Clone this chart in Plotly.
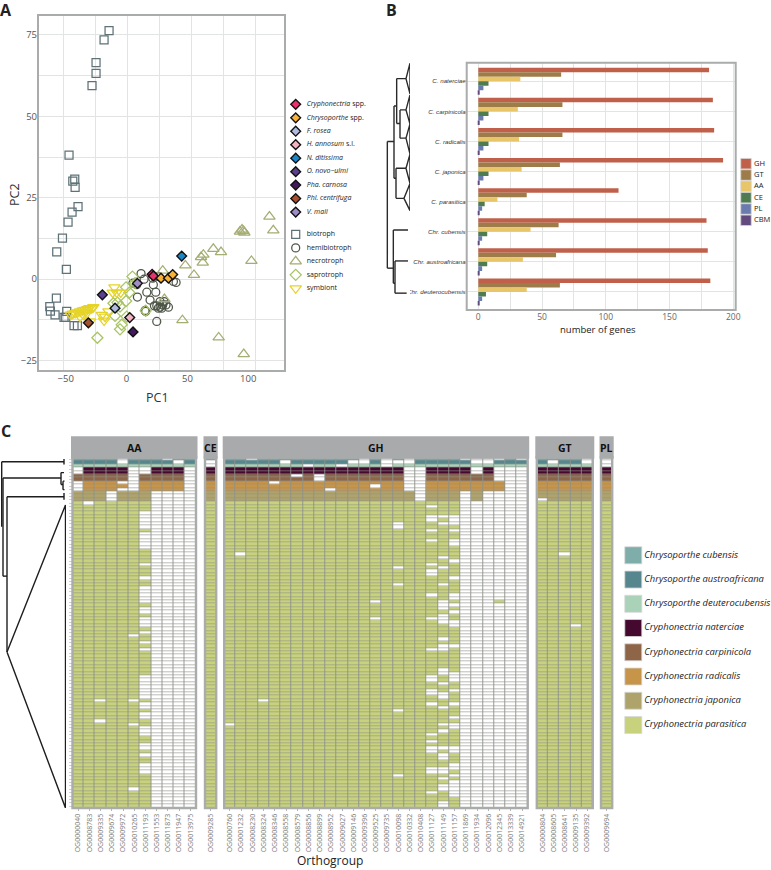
import plotly.graph_objects as go

W, H = 771, 870

# panel A: PCA scores per lifestyle
biotroph_x = [-14.4, -18.5, -25.1, -25.1, -28.4, -47.3, -42.6, -44.2, -42.3, -39.9, -44.8, -48.1, -52.7, -57.4, -49.5, -57.7, -63.1, -62.6, -58.8, -51.4, -49.2, -50.0, -43.2, -40.4]
biotroph_y = [76.3, 73.5, 66.5, 63.2, 59.4, 38.1, 30.7, 30.1, 28.2, 22.3, 20.6, 17.5, 12.6, 8.4, 3.0, -5.8, -8.4, -9.8, -11.0, -11.7, -9.9, -11.7, -14.3, -14.3]
hemi_x = [11.9, 14.4, 5.3, 8.9, 16.6, 19.3, 24.0, 22.0, 21.5, 27.5, 30.8, 24.8, 27.5, 34.4, 32.4, 22.9, 29.7, 26.1, 28.9, 40.7, 15.7, 24.8, 8.3, 26.1, 38.5, 15.2]
hemi_y = [1.7, 0.0, -1.2, -5.5, -4.0, -6.4, -4.0, -1.7, 0.3, -6.9, -6.9, -8.2, -8.6, -8.6, -7.9, -8.2, -7.9, -8.9, -8.9, -1.0, -9.9, -13.0, -1.7, 0.8, -0.7, -9.6]
necro_x = [117.4, 120.6, 93.2, 96.0, 96.8, 94.9, 71.3, 77.6, 63.1, 61.2, 62.6, 102.6, 48.3, 55.4, 29.7, 31.1, 45.9, 75.7, 96.3]
necro_y = [19.2, 15.0, 14.6, 14.8, 14.3, 15.2, 9.3, 8.3, 7.5, 6.8, 5.1, 5.6, 4.2, 1.3, 2.6, -6.1, -12.6, -17.9, -23.0]
sapro_x = [4.8, -0.4, 2.3, -0.4, -7.5, -10.8, -5.4, -9.5, 0.1, -4.0, -5.4, -24.0, 15.7, 7.0]
sapro_y = [0.8, -2.5, -4.1, -6.7, -7.2, -7.4, -8.4, -11.3, -11.5, -14.0, -15.4, -18.0, -9.7, -1.2]
symb_x = [-28.6, -30.6, -32.2, -34.1, -36.0, -38.2, -40.4, -42.3, -44.2, -45.9, -35.5, -32.7, -38.2, -30.0, -27.3, -20.4, -17.7, -18.5, -14.9, -10.0, -11.4, -8.1, -4.8]
symb_y = [-8.9, -8.9, -9.2, -9.4, -9.6, -9.9, -10.2, -10.4, -10.6, -10.9, -10.9, -10.4, -11.5, -13.0, -8.6, -11.0, -11.5, -12.7, -9.9, -2.5, -4.1, -4.1, -4.1]

# highlighted species in panel A
species_names = ["<i>Cryphonectria</i> spp.", "<i>Chrysoporthe</i> spp.", "<i>F. rosea</i>", "<i>H. annosum</i> s.l.", "<i>N. ditissima</i>",
                 "<i>O. novo\u2212ulmi</i>", "<i>Pha. carnosa</i>", "<i>Phl. centrifuga</i>", "<i>V. mali</i>"]
species_colors = ["#E8336D", "#F9B233", "#AEBCE0", "#F4B3C0", "#1C85C6", "#5B3F90", "#431A5B", "#A5512F", "#A08CC6"]
species_x = [[21.0, 22.0], [28.3, 34.4, 37.9], [-9.5], [2.6], [45.3], [-19.9], [5.3], [-31.4], [8.9]]
species_y = [[1.5, 1.0], [0.3, 0.3, 1.4], [-8.9], [-11.8], [7.1], [-4.8], [-16.2], [-13.4], [-1.3]]
habit_names = ["biotroph", "hemibiotroph", "necrotroph", "saprotroph", "symbiont"]
habit_colors = ["#5F7278", "#4E5648", "#A5AD73", "#A8C464", "#E5D327"]
habit_symbols = ["square-open", "circle-open", "triangle-up-open", "diamond-open", "triangle-down-open"]
habit_sizes = [8, 8, 10, 8.5, 10]

# panel B: gene counts
genomes = ["C. naterciae", "C. carpinicola", "C. radicalis", "C. japonica", "C. parasitica", "Chr. cubensis", "Chr. austroafricana", "Chr. deuterocubensis"]
cazy_names = ["GH", "GT", "AA", "CE", "PL", "CBM"]
cazy_colors = ["#C0604B", "#9E7C4A", "#E7C568", "#4E7B50", "#6A7BAE", "#634A7E"]
gh = [181, 184, 185, 192, 110, 179, 180, 182]
gt = [65, 66, 66, 64, 38, 63, 61, 64]
aa = [33, 31, 32, 34, 15, 41, 35, 38]
ce = [8, 8, 8, 8, 5, 7, 7, 6]
pl = [4, 4, 4, 4, 3, 3, 3, 3]
cbm = [1, 1, 1, 1, 1, 1, 1, 1]
cazy_counts = [gh, gt, aa, ce, pl, cbm]

# tree in panel B, y is the genome rank
tree_b_x = [22, 22, None, 22, 42, None, 22, 40, None, 42, 42, None, 42, 50, None, 50, 50, None, 50, 78, None, 50, 60, None, 60, 60, None, 60, 78, None, 60, 78, None,
            42, 48, None, 48, 48, None, 48, 78, None, 48, 72, None, 40, 40, None, 40, 84, None, 40, 45, None, 45, 45, None, 45, 84, None, 45, 80, None,
            78, 90, 90, 78, None, 78, 90, 90, 78, None, 78, 90, 90, 78, None, 78, 90, 90, 78, None, 72, 90, 90, 72]
tree_b_y = [2.0, 6.21, None, 2.0, 2.0, None, 6.21, 6.21, None, 0.82, 3.22, None, 0.82, 0.82, None, -0.09, 1.4, None, -0.09, -0.09, None, 1.4, 1.4, None, 0.95, 1.89, None, 0.95, 0.95, None, 1.89, 1.89, None,
            3.22, 3.22, None, 2.89, 3.89, None, 2.89, 2.89, None, 3.89, 3.89, None, 4.94, 6.71, None, 4.94, 4.94, None, 6.71, 6.71, None, 5.97, 7.04, None, 5.97, 5.97, None, 7.04, 7.04, None,
            -0.09, -0.6, 0.42, -0.09, None, 0.95, 0.45, 1.42, 0.95, None, 1.89, 1.42, 2.42, 1.89, None, 2.89, 2.42, 3.4, 2.89, None, 3.89, 3.4, 4.3, 3.89]

# panel C: absent rows per orthogroup, everything else is present
group_names = ["AA", "CE", "GH", "GT", "PL"]
aa_groups = ["OG0000040", "OG0008783", "OG0009335", "OG0009674", "OG0009972", "OG0010265", "OG0011193", "OG0011553", "OG0011873", "OG0011947", "OG0013975"]
ce_groups = ["OG0009285"]
gh_groups = ["OG0000760", "OG0001232", "OG0008230", "OG0008324", "OG0008346", "OG0008558", "OG0008579", "OG0008856", "OG0008899", "OG0008952", "OG0009027",
             "OG0009146", "OG0009396", "OG0009525", "OG0009735", "OG0010098", "OG0010332", "OG0010408", "OG0011127", "OG0011149", "OG0011157", "OG0011869",
             "OG0011934", "OG0012096", "OG0012345", "OG0013339", "OG0014921"]
gt_groups = ["OG0000804", "OG0008605", "OG0008641", "OG0009135", "OG0009392"]
pl_groups = ["OG0009694"]

aa_absent = [
    [3, 4, 7, 8, 9], [13], [71, 77], [10, 11, 12], [0, 1, 7, 9],
    [*range(3, 10), 52, 71, 78, 97],
    [3, 4, *range(16, 21), *range(22, 27), 31, 35, *range(38, 43), 44, 45, 47, 48, 49, 51, 54, 56, *range(64, 71), 72, 73, 75, 76, 79, 80, 81, 84, 85, 87, 90, 91, 92],
    [*range(10, 103)], [0, *range(10, 103)], [1, *range(10, 103)], [*range(3, 103)],
]
ce_absent = [[1, 2]]
gh_absent = [
    [78], [28], [0], [71], [7], [1], [5], [2], [5, 6], [9], [2], [1], [0, 1], [8, 42, 47], [0, 1, 2],
    [1, 19, 20, 32, 37, 74, 93],
    [0, 1, *range(3, 10)],
    [*range(3, 13)],
    [14, 17, 18, 21, 24, 31, 33, 34, 40, 47, 56, 64, 65, 68, 69, 72, 81, 83, 85, 86, 91, 92, 98],
    [17, 19, 29, 32, 37, 42, 43, 44, 46, 47, 48, 53, 55, 56, 62, 63, 66, 69, 70, 73, 78, 80, 85, 87, 88, 91, 92, 94, 96, 97, 101, 102],
    [17, 18, 19, 21, 24, 25, 30, 35, 40, 41, 43, 45, 48, 49, 55, 63, 64, 65, 68, 72, 76, 78, 79, 85, 86, 90, 91, 93, 95, 96, 97, 98, 99],
    [0, *range(10, 103)],
    [0, 1, 3, 4, *range(13, 103)],
    [0, 1, *range(10, 103)],
    [0, *range(3, 7), *range(10, 42), *range(43, 103)],
    [*range(3, 103)],
    [0, *range(3, 103)],
]
gt_absent = [[12], [1], [28], [49], [0, 1]]
pl_absent = [[0, 1, 2]]
group_labels = [aa_groups, ce_groups, gh_groups, gt_groups, pl_groups]
group_absent = [aa_absent, ce_absent, gh_absent, gt_absent, pl_absent]

strain_names = ["Chrysoporthe cubensis", "Chrysoporthe austroafricana", "Chrysoporthe deuterocubensis", "Cryphonectria naterciae",
                "Cryphonectria carpinicola", "Cryphonectria radicalis", "Cryphonectria japonica", "Cryphonectria parasitica"]
strain_colors = ["#7FADA9", "#56868E", "#A9D2B8", "#45092F", "#8E6647", "#C6954A", "#AFA36C", "#C8D27C"]
strain_counts = [1, 1, 1, 2, 2, 3, 3, 90]

# tree in panel C, y is the heatmap row
tree_c_x = [1.7, 64, None, 64, 64, None, 1.7, 1.7, None, 3, 61, None, 3, 3, None, 3, 7, None, 7, 7, None, 7, 64, None, 64, 64, None,
            7, 65.5, 65.5, 7, None, 61, 61, None, 61, 64, None, 61, 63, None, 63, 63, None, 63, 64.5, None, 63, 64.5]
tree_c_y = [0.8, 0.8, None, 0, 1.6, None, 0.8, 19.9, None, 5.6, 5.6, None, 5.6, 34.4, None, 34.4, 34.4, None, 11.1, 56.7, None, 11.1, 11.1, None, 10, 12, None,
            56.7, 13.5, 102.5, 56.7, None, 4, 7.5, None, 4, 4, None, 7.5, 7.5, None, 6.5, 9, None, 6.5, 6.5, None, 9, 9]

FONT = "Open Sans, Noto Sans, sans-serif"
FRAME = "#A9ACAB"
GRID = "#E2E3E3"


def xdom(a, b):
    return [a / W, b / W]


def ydom(a, b):
    return [1 - b / H, 1 - a / H]


def hidden(domain, rng, **kw):
    return dict(domain=domain, range=rng, visible=False, fixedrange=True, **kw)


fig = go.Figure()
layout = {}
shapes = []
annotations = []


def label(text, px, py, size, color="#222222", bold=False, angle=0, anchor="center", family=FONT):
    annotations.append(dict(text=f"<b>{text}</b>" if bold else text, x=px / W, y=1 - py / H, xref="paper", yref="paper", showarrow=False,
                            font=dict(family=family, size=size, color=color), textangle=angle, xanchor=anchor, yanchor="middle"))


def frame(xa, ya, width=2):
    shapes.append(dict(type="rect", xref=f"{xa} domain", yref=f"{ya} domain", x0=0, x1=1, y0=0, y1=1,
                       line=dict(color=FRAME, width=width), fillcolor="rgba(0,0,0,0)", layer="above"))


# ---- panel A
A_X, A_Y = xdom(38, 285), ydom(15, 371)
layout["xaxis"] = dict(domain=A_X, range=[-72.8, 130.2], tickvals=[-50, 0, 50, 100], showgrid=False, zeroline=False, ticks="",
                       tickfont=dict(size=9.5, color="#555555"), fixedrange=True, anchor="y")
layout["yaxis"] = dict(domain=A_Y, range=[-28.2, 81.1], tickvals=[-25, 0, 25, 50, 75], gridcolor=GRID, gridwidth=1.4, zeroline=False, ticks="",
                       minor=dict(dtick=12.5, tick0=0, showgrid=True, gridcolor=GRID, gridwidth=1),
                       tickfont=dict(size=9.5, color="#555555"), fixedrange=True, anchor="x")
# the vertical grid of the original does not line up with its labels
layout["xaxis2"] = dict(domain=A_X, range=[-69.8, 123.2], overlaying="x", anchor="y", dtick=25, tick0=0, gridcolor=GRID, gridwidth=1.2,
                        zeroline=False, showticklabels=False, ticks="", fixedrange=True, layer="below traces")
fig.add_trace(go.Scatter(x=[0], y=[0], mode="none", xaxis="x2", yaxis="y", hoverinfo="skip"))

habit_x = [biotroph_x, hemi_x, necro_x, sapro_x, symb_x]
habit_y = [biotroph_y, hemi_y, necro_y, sapro_y, symb_y]
for name, xs, ys, col, sym, size in zip(habit_names, habit_x, habit_y, habit_colors, habit_symbols, habit_sizes):
    fig.add_trace(go.Scatter(x=xs, y=ys, mode="markers", name=name, xaxis="x", yaxis="y",
                             marker=dict(symbol=sym, size=size, color=col, line=dict(width=1.25, color=col))))
for name, xs, ys, col in zip(species_names, species_x, species_y, species_colors):
    fig.add_trace(go.Scatter(x=xs, y=ys, mode="markers", name=name, xaxis="x", yaxis="y",
                             marker=dict(symbol="diamond", size=7.5, color=col, line=dict(width=1.4, color="#111111"))))
frame("x", "y")
label("PC1", 157, 397, 12.5, "#333333")
label("PC2", 14, 195, 12.5, "#333333", angle=-90)

# legend of panel A, one row per entry with a gap between the two blocks
layout["xaxis3"] = hidden(xdom(290, 400), [0, 110], anchor="y3")
layout["yaxis3"] = hidden(ydom(104.3, 288.3), [13.66, 0], anchor="x3")
rows = list(range(len(species_names)))
for row, col in zip(rows, species_colors):
    fig.add_trace(go.Scatter(x=[5.7], y=[row], mode="markers", xaxis="x3", yaxis="y3", cliponaxis=False,
                             marker=dict(symbol="diamond", size=7.5, color=col, line=dict(width=1.4, color="#111111"))))
fig.add_trace(go.Scatter(x=[16.7] * len(rows), y=rows, mode="text", text=species_names, textposition="middle right", xaxis="x3", yaxis="y3", cliponaxis=False,
                         textfont=dict(family=FONT, size=7, color="#222222")))
rows2 = [9.66 + i for i in range(len(habit_names))]
for row, col, sym, size in zip(rows2, habit_colors, habit_symbols, habit_sizes):
    fig.add_trace(go.Scatter(x=[5.7], y=[row], mode="markers", xaxis="x3", yaxis="y3", cliponaxis=False,
                             marker=dict(symbol=sym, size=size, color=col, line=dict(width=1.25, color=col))))
fig.add_trace(go.Scatter(x=[16.7] * len(rows2), y=rows2, mode="text", text=habit_names, textposition="middle right", xaxis="x3", yaxis="y3", cliponaxis=False,
                         textfont=dict(family=FONT, size=7, color="#222222")))

# ---- panel B
B_Y = ydom(62.7, 310)
B_RANGE = [7.6, -0.618]
layout["xaxis4"] = dict(domain=xdom(466.7, 735.7), range=[-9.1, 201.9], anchor="y4", tickvals=[0, 50, 100, 150, 200], gridcolor=GRID, gridwidth=1.1,
                        minor=dict(dtick=25, tick0=0, showgrid=True, gridcolor=GRID, gridwidth=0.8), zeroline=False, ticks="",
                        tickfont=dict(size=8.5, color="#666666"), fixedrange=True)
layout["yaxis4"] = dict(domain=B_Y, range=B_RANGE, anchor="x4", tickvals=list(range(8)), ticktext=[f"<i>{g}</i>" for g in genomes], gridcolor=GRID,
                        zeroline=False, ticks="", tickfont=dict(family="Liberation Sans Narrow, Liberation Sans, sans-serif", size=6.2, color="#333333"),
                        fixedrange=True)
for name, vals, col in zip(cazy_names, cazy_counts, cazy_colors):
    fig.add_trace(go.Bar(y=list(range(8)), x=vals, name=name, orientation="h", xaxis="x4", yaxis="y4", marker=dict(color=col, line=dict(width=0))))
frame("x4", "y4")
label("number of genes", 598, 329, 9.5, "#222222")

layout["xaxis5"] = hidden(xdom(380, 410), [0, 90], anchor="y5")
layout["yaxis5"] = hidden(B_Y, B_RANGE, anchor="x5")
fig.add_trace(go.Scatter(x=tree_b_x, y=tree_b_y, mode="lines", xaxis="x5", yaxis="y5", cliponaxis=False, line=dict(color="#2A2A2A", width=1.4)))

layout["xaxis6"] = hidden(xdom(738, 771), [0, 33], anchor="y6")
layout["yaxis6"] = hidden(ydom(163.7, 220.3), [5, 0], anchor="x6")
b_rows = list(range(len(cazy_names)))
fig.add_trace(go.Scatter(x=[8] * 6, y=b_rows, mode="markers", xaxis="x6", yaxis="y6", cliponaxis=False,
                         marker=dict(symbol="square", size=10.5, color=cazy_colors, line=dict(width=0.8, color="#D5D5D5"))))
fig.add_trace(go.Scatter(x=[16] * 6, y=b_rows, mode="text", text=cazy_names, textposition="middle right", xaxis="x6", yaxis="y6", cliponaxis=False,
                         textfont=dict(family=FONT, size=7.5, color="#222222")))

# ---- panel C
row_strain = [i for i, n in enumerate(strain_counts) for _ in range(n)]
n_rows = len(row_strain)
C_Y = ydom(457.3, 808)
C_RANGE = [n_rows - 0.5, -0.5]
colorscale = [[0.0, "#FFFFFF"], [1 / 9, "#FFFFFF"]]
for i, col in enumerate(strain_colors):
    colorscale += [[(i + 1) / 9, col], [(i + 2) / 9, col]]

# inner left/right edge of each facet
facet_left = [72.5, 205, 224.2, 536.8, 601]
facet_right = [196, 216.2, 527.7, 592.8, 612.2]
for k, (gname, labels, absent, left, right) in enumerate(zip(group_names, group_labels, group_absent, facet_left, facet_right)):
    xa = f"x{7 + k}"
    key = f"xaxis{7 + k}"
    layout[key] = dict(domain=xdom(left, right), anchor="y7", type="category", tickvals=labels, ticktext=labels, tickangle=-90, showgrid=False, zeroline=False,
                       ticks="outside", ticklen=2, tickcolor="#B5B5B5", tickfont=dict(size=7, color="#7B7B7B"), fixedrange=True,
                       range=[-0.5, len(labels) - 0.5])
    z = [[0 if r in miss else row_strain[r] + 1 for miss in absent] for r in range(n_rows)]
    # grey panel behind the cells shows through the gaps as the cell borders
    shapes.append(dict(type="rect", xref=f"{xa} domain", yref="y7 domain", x0=0, x1=1, y0=0, y1=1, fillcolor="#8E918A", line=dict(width=0), layer="below"))
    fig.add_trace(go.Heatmap(z=z, x=labels, y=list(range(n_rows)), xaxis=xa, yaxis="y7", zmin=-0.5, zmax=8.5, colorscale=colorscale, showscale=False,
                             xgap=0.9, ygap=0.6, hoverinfo="skip"))
    frame(xa, "y7", width=2.4)
    shapes.append(dict(type="rect", xref=f"{xa} domain", yref="paper", x0=0, x1=1, y0=C_Y[1], y1=1 - 437.7 / H, fillcolor="#A8AAAC", line=dict(color="#A8AAAC", width=3), layer="above"))
    annotations.append(dict(text=f"<b>{gname}</b>", xref=f"{xa} domain", yref="paper", x=0.5, y=1 - 447.5 / H, showarrow=False,
                            font=dict(family=FONT, size=10.5, color="#111111")))
layout["yaxis7"] = dict(domain=C_Y, range=C_RANGE, anchor="x7", tickvals=list(range(n_rows)), showticklabels=False, showgrid=False, zeroline=False,
                        ticks="outside", ticklen=3, tickcolor="#D0D0D0", tickwidth=0.8, fixedrange=True)
label("Orthogroup", 330, 860.5, 12, "#222222")

layout["xaxis12"] = hidden(xdom(0, 66), [0, 66], anchor="y12")
layout["yaxis12"] = hidden(C_Y, C_RANGE, anchor="x12")
fig.add_trace(go.Scatter(x=tree_c_x, y=tree_c_y, mode="lines", xaxis="x12", yaxis="y12", cliponaxis=False, line=dict(color="#1E1E1E", width=1.4)))

layout["xaxis13"] = hidden(xdom(620, 771), [0, 151], anchor="y13")
layout["yaxis13"] = hidden(ydom(555.3, 725), [7, 0], anchor="x13")
c_rows = list(range(len(strain_names)))
fig.add_trace(go.Scatter(x=[13.3] * 8, y=c_rows, mode="markers", xaxis="x13", yaxis="y13", cliponaxis=False,
                         marker=dict(symbol="square", size=17, color=strain_colors, line=dict(width=0.8, color="#D8D8D8"))))
fig.add_trace(go.Scatter(x=[24.3] * 8, y=c_rows, mode="text", text=[f"<i>{s}</i>" for s in strain_names], textposition="middle right", xaxis="x13", yaxis="y13", cliponaxis=False,
                         textfont=dict(family=FONT, size=9.4, color="#222222")))

# panel letters
label("A", 6, 10.5, 16, "#222222", bold=True)
label("B", 391, 10.5, 16, "#222222", bold=True)
label("C", 6, 431, 16, "#222222", bold=True)

fig.update_layout(width=W, height=H, margin=dict(l=0, r=0, t=0, b=0, autoexpand=False), showlegend=False, paper_bgcolor="white", plot_bgcolor="white",
                  font=dict(family=FONT), barmode="group", bargap=0.1, bargroupgap=0, shapes=shapes, annotations=annotations, **layout)
fig.write_html("out.html", post_script="document.documentElement.style.overflow='hidden';document.body.style.margin='0';document.body.style.overflow='hidden';",
               config=dict(displayModeBar=False))
